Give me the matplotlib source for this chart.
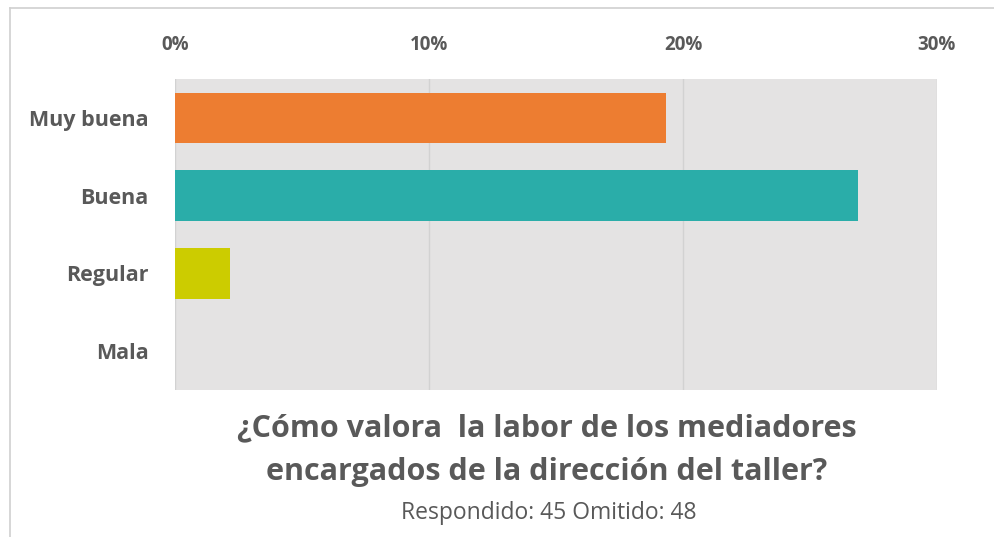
import matplotlib.pyplot as plt
from matplotlib.lines import Line2D

categories = ["Muy buena", "Buena", "Regular", "Mala"]
values = [19.35, 26.88, 2.15, 0.0]
bar_colors = ["#ED7D31", "#2AADA9", "#CCCC00", "#A5A5A5"]
x_ticks = [0, 10, 20, 30]
x_tick_labels = ["0%", "10%", "20%", "30%"]

title = "¿Cómo valora  la labor de los mediadores\nencargados de la dirección del taller?"
subtitle = "Respondido: 45 Omitido: 48"

plt.rcParams['font.family'] = ['Open Sans', 'DejaVu Sans']
text_color = "#595959"

W, H = 994, 537
fig = plt.figure(figsize=(W / 100, H / 100), dpi=100)
ax = fig.add_axes([175 / W, 1 - 390 / H, (937 - 175) / W, (390 - 79) / H])

ax.set_facecolor("#E4E3E3")
ax.barh(range(len(categories)), values, height=0.65, color=bar_colors, zorder=3)
ax.set_xlim(0, 30)
ax.set_ylim(3.5, -0.5)

ax.set_xticks(x_ticks)
ax.set_xticklabels(x_tick_labels)
ax.set_yticks(range(len(categories)))
ax.set_yticklabels(categories)
ax.xaxis.tick_top()
ax.tick_params(axis='x', length=0, pad=17, labelsize=13.5, labelcolor=text_color)
ax.tick_params(axis='y', length=0, pad=19, labelsize=15.5, labelcolor=text_color)
for lbl in ax.get_xticklabels() + ax.get_yticklabels():
    lbl.set_fontweight('bold')

ax.grid(axis='x', color="#D2D2D2", linewidth=1, zorder=1)
for s in ax.spines.values():
    s.set_visible(False)

fig.text(547 / W, 1 - 450 / H, title, ha='center', va='center', fontsize=22,
         fontweight='bold', color=text_color, linespacing=1.62)
fig.text(549 / W, 1 - 513 / H, subtitle, ha='center', va='center', fontsize=16.5,
         color=text_color)

# thin frame lines at top and left of the picture
fig.add_artist(Line2D([10 / W, 1], [1 - 8 / H, 1 - 8 / H], transform=fig.transFigure,
                      color="#D0D0D0", linewidth=1.2))
fig.add_artist(Line2D([10 / W, 10 / W], [0, 1 - 8 / H], transform=fig.transFigure,
                      color="#D0D0D0", linewidth=1.2))

fig.savefig("out.png", dpi=100)
